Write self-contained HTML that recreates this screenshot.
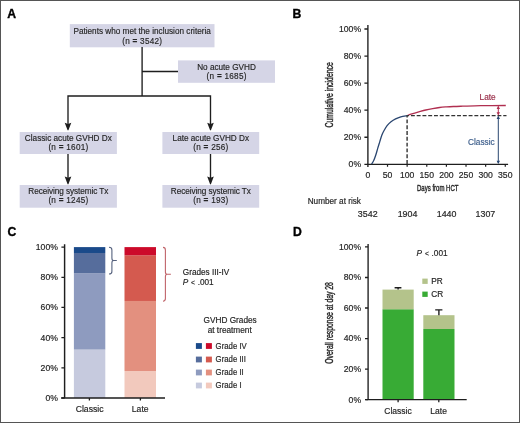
<!DOCTYPE html>
<html><head><meta charset="utf-8"><style>
html,body{margin:0;padding:0;background:#fff;}
svg{display:block;font-family:"Liberation Sans", sans-serif;will-change:transform;}
</style></head><body>
<svg width="520" height="423" viewBox="0 0 520 423">
<rect width="520" height="423" fill="#fff"/>
<text transform="translate(7.20,17.70)" font-size="12.2" fill="#000" font-weight="bold" stroke="#000" stroke-width="0.35">A</text>
<rect x="69.8" y="24.1" width="144.7" height="23.2" fill="#d5d5e6"/>
<text transform="translate(142.15,34.10)" font-size="8.2" fill="#262626" text-anchor="middle" stroke="#262626" stroke-width="0.16">Patients who met the inclusion criteria</text>
<text transform="translate(142.27,43.60)" font-size="8.2" fill="#262626" text-anchor="middle" letter-spacing="0.25" stroke="#262626" stroke-width="0.16">(n <tspan font-weight="bold">=</tspan> 3542)</text>
<rect x="178" y="60.4" width="97" height="22.4" fill="#d5d5e6"/>
<text transform="translate(226.50,69.90)" font-size="8.2" fill="#262626" text-anchor="middle" stroke="#262626" stroke-width="0.16">No acute GVHD</text>
<text transform="translate(226.62,79.20)" font-size="8.2" fill="#262626" text-anchor="middle" letter-spacing="0.25" stroke="#262626" stroke-width="0.16">(n <tspan font-weight="bold">=</tspan> 1685)</text>
<rect x="19.7" y="132" width="97.2" height="22" fill="#d5d5e6"/>
<text transform="translate(68.30,140.50)" font-size="8.2" fill="#262626" text-anchor="middle" stroke="#262626" stroke-width="0.16">Classic acute GVHD Dx</text>
<text transform="translate(68.42,149.90)" font-size="8.2" fill="#262626" text-anchor="middle" letter-spacing="0.25" stroke="#262626" stroke-width="0.16">(n <tspan font-weight="bold">=</tspan> 1601)</text>
<rect x="162.4" y="132" width="96.8" height="22" fill="#d5d5e6"/>
<text transform="translate(210.80,140.50)" font-size="8.2" fill="#262626" text-anchor="middle" stroke="#262626" stroke-width="0.16">Late acute GVHD Dx</text>
<text transform="translate(210.93,149.90)" font-size="8.2" fill="#262626" text-anchor="middle" letter-spacing="0.25" stroke="#262626" stroke-width="0.16">(n <tspan font-weight="bold">=</tspan> 256)</text>
<rect x="19.7" y="185" width="97.2" height="22.7" fill="#d5d5e6"/>
<text transform="translate(68.27,194.20)" font-size="8.2" fill="#262626" text-anchor="middle" letter-spacing="-0.07" stroke="#262626" stroke-width="0.16">Receiving systemic Tx</text>
<text transform="translate(68.42,202.80)" font-size="8.2" fill="#262626" text-anchor="middle" letter-spacing="0.25" stroke="#262626" stroke-width="0.16">(n <tspan font-weight="bold">=</tspan> 1245)</text>
<rect x="162.4" y="185" width="96.8" height="22.7" fill="#d5d5e6"/>
<text transform="translate(210.77,194.20)" font-size="8.2" fill="#262626" text-anchor="middle" letter-spacing="-0.07" stroke="#262626" stroke-width="0.16">Receiving systemic Tx</text>
<text transform="translate(210.93,202.80)" font-size="8.2" fill="#262626" text-anchor="middle" letter-spacing="0.25" stroke="#262626" stroke-width="0.16">(n <tspan font-weight="bold">=</tspan> 193)</text>
<path d="M142.1,46.9 V96.0 M142.1,71.5 H178 M68.0,96.0 H210.5 M68.0,95.3 V124 M210.5,95.3 V124 M68.0,154 V178 M210.5,154 V178" stroke="#1e1e1e" stroke-width="1.35" fill="none"/>
<path d="M64.7,122.8 L68.0,124.0 L71.3,122.8 L68.5,130.1 L68.0,130.6 L67.5,130.1 Z" fill="#1e1e1e"/>
<path d="M64.7,176.6 L68.0,177.8 L71.3,176.6 L68.5,183.9 L68.0,184.4 L67.5,183.9 Z" fill="#1e1e1e"/>
<path d="M207.2,122.8 L210.5,124.0 L213.8,122.8 L211.0,130.1 L210.5,130.6 L210.0,130.1 Z" fill="#1e1e1e"/>
<path d="M207.2,176.6 L210.5,177.8 L213.8,176.6 L211.0,183.9 L210.5,184.4 L210.0,183.9 Z" fill="#1e1e1e"/>
<text transform="translate(292.60,17.70)" font-size="12.2" fill="#000" font-weight="bold" stroke="#000" stroke-width="0.35">B</text>
<path d="M367.9,25 V167.0 M367.09999999999997,164.3 H508.1" stroke="#1e1e1e" stroke-width="1.35" fill="none"/>
<path d="M364.4,164.30 H367.9 M364.4,137.24 H367.9 M364.4,110.18 H367.9 M364.4,83.12 H367.9 M364.4,56.06 H367.9 M364.4,29.00 H367.9" stroke="#1e1e1e" stroke-width="1.3" fill="none"/>
<path d="M387.52,164.3 V166.8 M407.15,164.3 V166.8 M426.77,164.3 V166.8 M446.40,164.3 V166.8 M466.02,164.3 V166.8 M485.65,164.3 V166.8 M505.27,164.3 V166.8" stroke="#1e1e1e" stroke-width="1.2" fill="none"/>
<text transform="translate(361.10,167.20) scale(1.03,1)" font-size="8.4" fill="#262626" text-anchor="end" stroke="#262626" stroke-width="0.18">0%</text>
<text transform="translate(361.10,140.14) scale(1.03,1)" font-size="8.4" fill="#262626" text-anchor="end" stroke="#262626" stroke-width="0.18">20%</text>
<text transform="translate(361.10,113.08) scale(1.03,1)" font-size="8.4" fill="#262626" text-anchor="end" stroke="#262626" stroke-width="0.18">40%</text>
<text transform="translate(361.10,86.02) scale(1.03,1)" font-size="8.4" fill="#262626" text-anchor="end" stroke="#262626" stroke-width="0.18">60%</text>
<text transform="translate(361.10,58.96) scale(1.03,1)" font-size="8.4" fill="#262626" text-anchor="end" stroke="#262626" stroke-width="0.18">80%</text>
<text transform="translate(361.10,31.90) scale(1.03,1)" font-size="8.4" fill="#262626" text-anchor="end" stroke="#262626" stroke-width="0.18">100%</text>
<text transform="translate(367.90,178.10) scale(1.03,1)" font-size="8.4" fill="#262626" text-anchor="middle" stroke="#262626" stroke-width="0.18">0</text>
<text transform="translate(387.52,178.10) scale(1.03,1)" font-size="8.4" fill="#262626" text-anchor="middle" stroke="#262626" stroke-width="0.18">50</text>
<text transform="translate(407.15,178.10) scale(1.03,1)" font-size="8.4" fill="#262626" text-anchor="middle" stroke="#262626" stroke-width="0.18">100</text>
<text transform="translate(426.77,178.10) scale(1.03,1)" font-size="8.4" fill="#262626" text-anchor="middle" stroke="#262626" stroke-width="0.18">150</text>
<text transform="translate(446.40,178.10) scale(1.03,1)" font-size="8.4" fill="#262626" text-anchor="middle" stroke="#262626" stroke-width="0.18">200</text>
<text transform="translate(466.02,178.10) scale(1.03,1)" font-size="8.4" fill="#262626" text-anchor="middle" stroke="#262626" stroke-width="0.18">250</text>
<text transform="translate(485.65,178.10) scale(1.03,1)" font-size="8.4" fill="#262626" text-anchor="middle" stroke="#262626" stroke-width="0.18">300</text>
<text transform="translate(505.27,178.10) scale(1.03,1)" font-size="8.4" fill="#262626" text-anchor="middle" stroke="#262626" stroke-width="0.18">350</text>
<text transform="translate(417.00,191.30) scale(0.655,1)" font-size="9.2" fill="#262626" stroke="#262626" stroke-width="0.4">Days from HCT</text>
<text transform="translate(332.90,94.85) rotate(-90) scale(0.655,1)" font-size="10.5" fill="#262626" text-anchor="middle" stroke="#262626" stroke-width="0.4">Cumulative incidence</text>
<path d="M371.50,164.20 C371.85,163.63 372.90,162.28 373.60,160.80 C374.30,159.32 375.02,157.37 375.70,155.30 C376.38,153.23 377.02,150.68 377.70,148.40 C378.38,146.12 379.12,143.80 379.80,141.60 C380.48,139.40 381.13,136.97 381.80,135.20 C382.47,133.43 382.92,132.58 383.80,131.00 C384.68,129.42 385.90,127.23 387.10,125.70 C388.30,124.17 389.58,122.93 391.00,121.80 C392.42,120.67 393.97,119.72 395.60,118.90 C397.23,118.08 398.87,117.45 400.80,116.90 C402.73,116.35 406.13,115.82 407.20,115.60" stroke="#2a4670" stroke-width="1.3" fill="none"/>
<path d="M407.20,115.50 C407.98,115.23 409.97,114.50 411.90,113.90 C413.83,113.30 416.48,112.55 418.80,111.90 C421.12,111.25 423.48,110.55 425.80,110.00 C428.12,109.45 430.40,109.02 432.70,108.60 C435.00,108.18 437.30,107.78 439.60,107.50 C441.90,107.22 444.20,107.07 446.50,106.90 C448.80,106.73 450.70,106.62 453.40,106.50 C456.10,106.38 458.13,106.33 462.70,106.20 C467.27,106.07 473.62,105.82 480.80,105.70 C487.98,105.58 501.63,105.53 505.80,105.50" stroke="#b02f50" stroke-width="1.3" fill="none"/>
<path d="M407.1,115.6 V164.3" stroke="#333" stroke-width="1.4" stroke-dasharray="3.9,1.9" stroke-dashoffset="1.95" fill="none"/>
<path d="M407.1,115.6 H506.5" stroke="#333" stroke-width="1.4" stroke-dasharray="3.9,1.87" stroke-dashoffset="1.95" fill="none"/>
<path d="M498.3,106.5 V114.5" stroke="#b02f50" stroke-width="1"/>
<path d="M496.6,109 L498.3,105.8 L500.0,109 Z M496.6,112.2 L498.3,115.4 L500.0,112.2 Z" fill="#b02f50"/>
<path d="M498.3,116.5 V163" stroke="#2a4670" stroke-width="1"/>
<path d="M496.6,119 L498.3,115.8 L500.0,119 Z M496.6,160.8 L498.3,164 L500.0,160.8 Z" fill="#2a4670"/>
<text transform="translate(479.60,99.80)" font-size="8.25" fill="#9a2f4a" stroke="#9a2f4a" stroke-width="0.18">Late</text>
<text transform="translate(494.60,145.40)" font-size="8.25" fill="#3e5f8c" text-anchor="end" stroke="#3e5f8c" stroke-width="0.18">Classic</text>
<text transform="translate(307.70,204.40)" font-size="8.2" fill="#262626" stroke="#262626" stroke-width="0.18">Number at risk</text>
<text transform="translate(367.70,216.90) scale(1.075,1)" font-size="8.25" fill="#262626" text-anchor="middle" stroke="#262626" stroke-width="0.18">3542</text>
<text transform="translate(407.50,216.90) scale(1.075,1)" font-size="8.25" fill="#262626" text-anchor="middle" stroke="#262626" stroke-width="0.18">1904</text>
<text transform="translate(446.60,216.90) scale(1.075,1)" font-size="8.25" fill="#262626" text-anchor="middle" stroke="#262626" stroke-width="0.18">1440</text>
<text transform="translate(485.40,216.90) scale(1.075,1)" font-size="8.25" fill="#262626" text-anchor="middle" stroke="#262626" stroke-width="0.18">1307</text>
<text transform="translate(7.40,235.90)" font-size="12.2" fill="#000" font-weight="bold" stroke="#000" stroke-width="0.35">C</text>
<rect x="73.9" y="349.56" width="31.4" height="48.44" fill="#c6cade"/>
<rect x="73.9" y="273.36" width="31.4" height="76.20" fill="#8e9bbf"/>
<rect x="73.9" y="252.99" width="31.4" height="20.37" fill="#566d9c"/>
<rect x="73.9" y="247.10" width="31.4" height="5.89" fill="#1a4a8a"/>
<rect x="124.5" y="370.99" width="31.5" height="27.01" fill="#f2c9bd"/>
<rect x="124.5" y="300.97" width="31.5" height="70.02" fill="#e3907f"/>
<rect x="124.5" y="255.25" width="31.5" height="45.72" fill="#d45a4f"/>
<rect x="124.5" y="247.10" width="31.5" height="8.15" fill="#cc0a2a"/>
<path d="M64.6,244.2 V398.0 M61.2,398.0 H165" stroke="#1e1e1e" stroke-width="1.45" fill="none"/>
<path d="M61.4,398.00 H64.6 M61.4,367.82 H64.6 M61.4,337.64 H64.6 M61.4,307.46 H64.6 M61.4,277.28 H64.6 M61.4,247.10 H64.6 M89.4,398.0 V400.6 M140.4,398.0 V400.6" stroke="#1e1e1e" stroke-width="1.3" fill="none"/>
<text transform="translate(57.90,400.90) scale(1.03,1)" font-size="8.4" fill="#262626" text-anchor="end" stroke="#262626" stroke-width="0.18">0%</text>
<text transform="translate(57.90,370.72) scale(1.03,1)" font-size="8.4" fill="#262626" text-anchor="end" stroke="#262626" stroke-width="0.18">20%</text>
<text transform="translate(57.90,340.54) scale(1.03,1)" font-size="8.4" fill="#262626" text-anchor="end" stroke="#262626" stroke-width="0.18">40%</text>
<text transform="translate(57.90,310.36) scale(1.03,1)" font-size="8.4" fill="#262626" text-anchor="end" stroke="#262626" stroke-width="0.18">60%</text>
<text transform="translate(57.90,280.18) scale(1.03,1)" font-size="8.4" fill="#262626" text-anchor="end" stroke="#262626" stroke-width="0.18">80%</text>
<text transform="translate(57.90,250.00) scale(1.03,1)" font-size="8.4" fill="#262626" text-anchor="end" stroke="#262626" stroke-width="0.18">100%</text>
<text transform="translate(89.60,412.20) scale(1.05,1)" font-size="8.25" fill="#262626" text-anchor="middle" stroke="#262626" stroke-width="0.18">Classic</text>
<text transform="translate(140.20,412.20) scale(1.04,1)" font-size="8.25" fill="#262626" text-anchor="middle" stroke="#262626" stroke-width="0.18">Late</text>
<text transform="translate(182.80,274.90)" font-size="8.2" fill="#262626" stroke="#262626" stroke-width="0.18">Grades III-IV</text>
<text transform="translate(182.80,285.10)" font-size="8.2" fill="#262626" stroke="#262626" stroke-width="0.18"><tspan font-style="italic">P</tspan> <tspan font-size="6.7" dx="0.5">&lt;</tspan><tspan dx="0.45"> .001</tspan></text>
<text transform="translate(230.10,322.90)" font-size="8.25" fill="#262626" text-anchor="middle" stroke="#262626" stroke-width="0.18">GVHD Grades</text>
<text transform="translate(229.70,332.80)" font-size="8.25" fill="#262626" text-anchor="middle" stroke="#262626" stroke-width="0.18">at treatment</text>
<rect x="195.9" y="343.1" width="6" height="5.8" fill="#1a4a8a"/>
<rect x="205.9" y="343.1" width="6" height="5.8" fill="#cc0a2a"/>
<text transform="translate(215.60,348.70) scale(0.95,1)" font-size="8.2" fill="#262626" stroke="#262626" stroke-width="0.18">Grade IV</text>
<rect x="195.9" y="356.6" width="6" height="5.8" fill="#566d9c"/>
<rect x="205.9" y="356.6" width="6" height="5.8" fill="#d45a4f"/>
<text transform="translate(215.60,362.20) scale(0.95,1)" font-size="8.2" fill="#262626" stroke="#262626" stroke-width="0.18">Grade III</text>
<rect x="195.9" y="369.6" width="6" height="5.8" fill="#8e9bbf"/>
<rect x="205.9" y="369.6" width="6" height="5.8" fill="#e3907f"/>
<text transform="translate(215.60,375.20) scale(0.95,1)" font-size="8.2" fill="#262626" stroke="#262626" stroke-width="0.18">Grade II</text>
<rect x="195.9" y="382.6" width="6" height="5.8" fill="#c6cade"/>
<rect x="205.9" y="382.6" width="6" height="5.8" fill="#f2c9bd"/>
<text transform="translate(215.60,388.20) scale(0.95,1)" font-size="8.2" fill="#262626" stroke="#262626" stroke-width="0.18">Grade I</text>
<path d="M109.0,247.3 Q111.9,247.3 111.9,249.9 V257.9 Q111.9,260.5 113.5,260.5 H116.8 M113.5,260.5 Q111.9,260.5 111.9,263.1 V271.4 Q111.9,274.0 109.0,274.0" stroke="#56627e" stroke-width="1.1" fill="none"/>
<path d="M163.0,247.4 Q165.4,247.4 165.4,250.0 V271.7 Q165.4,274.3 167.0,274.3 H170.9 M167.0,274.3 Q165.4,274.3 165.4,276.90000000000003 V298.59999999999997 Q165.4,301.2 163.0,301.2" stroke="#c0646a" stroke-width="1.1" fill="none"/>
<text transform="translate(292.90,235.80)" font-size="12.2" fill="#000" font-weight="bold" stroke="#000" stroke-width="0.35">D</text>
<rect x="382.5" y="309.23" width="31.2" height="90.37" fill="#38ab35"/>
<rect x="382.5" y="289.6" width="31.2" height="19.63" fill="#b4c38b"/>
<rect x="423.3" y="329.0" width="31.2" height="70.60" fill="#38ab35"/>
<rect x="423.3" y="315.2" width="31.2" height="13.8" fill="#b4c38b"/>
<path d="M398.1,289.6 V287.8 M394.6,287.8 H401.4 M438.9,315.2 V309.9 M435.2,309.9 H442.4" stroke="#1e1e1e" stroke-width="1.4" fill="none"/>
<path d="M368.1,244 V399.6 M365.5,399.6 H466.7" stroke="#1e1e1e" stroke-width="1.35" fill="none"/>
<path d="M365.0,399.60 H368.1 M365.0,369.07 H368.1 M365.0,338.54 H368.1 M365.0,308.01 H368.1 M365.0,277.48 H368.1 M365.0,246.95 H368.1 M398.1,399.6 V402.3 M438.8,399.6 V402.3" stroke="#1e1e1e" stroke-width="1.3" fill="none"/>
<text transform="translate(361.10,402.50) scale(1.03,1)" font-size="8.4" fill="#262626" text-anchor="end" stroke="#262626" stroke-width="0.18">0%</text>
<text transform="translate(361.10,371.97) scale(1.03,1)" font-size="8.4" fill="#262626" text-anchor="end" stroke="#262626" stroke-width="0.18">20%</text>
<text transform="translate(361.10,341.44) scale(1.03,1)" font-size="8.4" fill="#262626" text-anchor="end" stroke="#262626" stroke-width="0.18">40%</text>
<text transform="translate(361.10,310.91) scale(1.03,1)" font-size="8.4" fill="#262626" text-anchor="end" stroke="#262626" stroke-width="0.18">60%</text>
<text transform="translate(361.10,280.38) scale(1.03,1)" font-size="8.4" fill="#262626" text-anchor="end" stroke="#262626" stroke-width="0.18">80%</text>
<text transform="translate(361.10,249.85) scale(1.03,1)" font-size="8.4" fill="#262626" text-anchor="end" stroke="#262626" stroke-width="0.18">100%</text>
<text transform="translate(398.00,413.70) scale(1.03,1)" font-size="8.25" fill="#262626" text-anchor="middle" stroke="#262626" stroke-width="0.18">Classic</text>
<text transform="translate(438.60,413.70) scale(1.03,1)" font-size="8.25" fill="#262626" text-anchor="middle" stroke="#262626" stroke-width="0.18">Late</text>
<text transform="translate(416.60,256.20)" font-size="8.25" fill="#262626" stroke="#262626" stroke-width="0.18"><tspan font-style="italic">P</tspan> <tspan font-size="6.7" dx="0.5">&lt;</tspan><tspan dx="0.45"> .001</tspan></text>
<rect x="422.3" y="278.6" width="5.4" height="5.3" fill="#b4c38b"/>
<rect x="422.3" y="291.6" width="5.4" height="5.3" fill="#38ab35"/>
<text transform="translate(431.30,284.30)" font-size="8.25" fill="#262626" stroke="#262626" stroke-width="0.18">PR</text>
<text transform="translate(431.30,297.30)" font-size="8.25" fill="#262626" stroke="#262626" stroke-width="0.18">CR</text>
<text transform="translate(332.70,322.95) rotate(-90) scale(0.665,1)" font-size="10.3" fill="#262626" text-anchor="middle" stroke="#262626" stroke-width="0.4">Overall response at day 28</text>
<rect x="0.5" y="0.5" width="519" height="422" fill="none" stroke="#555" stroke-width="1"/>
</svg>
</body></html>
